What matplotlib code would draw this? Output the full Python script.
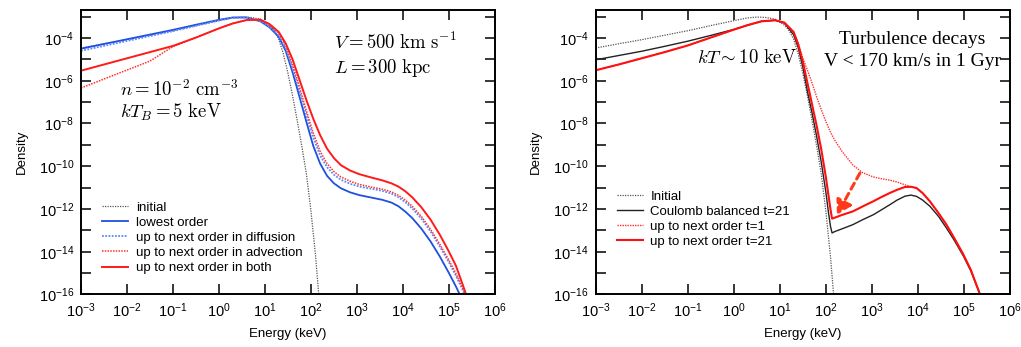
import numpy as np
import matplotlib
matplotlib.use("Agg")
import matplotlib.pyplot as plt
from matplotlib.ticker import FixedLocator, FuncFormatter

plt.rcParams['font.family'] = ['Liberation Sans', 'DejaVu Sans']
plt.rcParams['mathtext.fontset'] = 'cm'

# ---- left panel data (log10 energy [keV], log10 density) ----
logE_left = [-3, -2.5, -2, -1.5, -1, -0.5, 0, 0.3, 0.6, 0.9, 1.1, 1.3, 1.45, 1.6,
             1.75, 1.9, 2.05, 2.2, 2.35, 2.5, 2.65, 2.85, 3.05, 3.3, 3.55, 3.75,
             3.9, 4.05, 4.2, 4.4, 4.6, 4.8, 5.0, 5.15, 5.3, 5.45]
lowest = [-4.50, -4.28, -4.06, -3.84, -3.62, -3.38, -3.15, -3.04, -3.04, -3.22,
          -3.50, -3.95, -4.60, -5.60, -6.75, -7.92, -9.05, -9.88, -10.45, -10.80,
          -11.03, -11.22, -11.35, -11.46, -11.57, -11.70, -11.87, -12.12, -12.42,
          -12.92, -13.52, -14.22, -15.00, -15.62, -16.30, -17.0]
diffusion = [-4.60, -4.37, -4.14, -3.91, -3.68, -3.43, -3.18, -3.05, -3.04, -3.21,
             -3.47, -3.88, -4.50, -5.42, -6.50, -7.60, -8.65, -9.50, -10.05, -10.40,
             -10.63, -10.82, -10.95, -11.05, -11.15, -11.28, -11.45, -11.68, -11.97,
             -12.45, -13.05, -13.75, -14.50, -15.12, -15.80, -16.5]
advection = [-6.34, -5.92, -5.50, -5.08, -4.40, -3.98, -3.55, -3.32, -3.16, -3.14,
             -3.38, -3.76, -4.35, -5.25, -6.30, -7.40, -8.45, -9.30, -9.88, -10.25,
             -10.50, -10.70, -10.85, -10.97, -11.07, -11.20, -11.36, -11.58, -11.87,
             -12.35, -12.95, -13.65, -14.40, -15.02, -15.70, -16.4]
both = [-5.53, -5.24, -4.95, -4.66, -4.37, -3.98, -3.55, -3.32, -3.16, -3.14,
        -3.35, -3.72, -4.25, -5.00, -5.95, -6.90, -7.78, -8.55, -9.18, -9.62,
        -9.95, -10.20, -10.37, -10.52, -10.66, -10.80, -10.95, -11.17, -11.45,
        -11.92, -12.50, -13.20, -14.00, -14.65, -15.55, -16.5]

# initial distribution (same in both panels)
logE_init = [-3, -2.5, -2, -1.5, -1, -0.5, 0, 0.3, 0.5, 0.7, 0.9, 1.1, 1.2, 1.3,
             1.4, 1.5, 1.6, 1.7, 1.8, 1.9, 2.0, 2.1, 2.2]
initial = [-4.47, -4.27, -4.08, -3.87, -3.66, -3.42, -3.19, -3.06, -3.02, -3.04,
           -3.12, -3.40, -3.65, -4.05, -4.75, -5.65, -6.70, -7.85, -9.05, -10.35,
           -12.10, -14.20, -16.8]

# ---- right panel data ----
logE_right = [-3, -2.5, -2, -1.5, -1, -0.5, 0, 0.3, 0.6, 0.9, 1.1, 1.3, 1.4, 1.5,
              1.6, 1.7, 1.8, 1.9, 2.0, 2.06, 2.1, 2.135, 2.2, 2.35, 2.59, 2.8, 3.03,
              3.2, 3.39, 3.55, 3.72, 3.85, 3.97, 4.1, 4.26, 4.45, 4.62, 4.8, 4.99,
              5.15, 5.35, 5.45]
coulomb = [-5.02, -4.82, -4.62, -4.39, -4.15, -3.88, -3.60, -3.40, -3.22, -3.17,
           -3.30, -3.85, -4.45, -5.35, -6.50, -7.50, -8.60, -9.80, -11.20, -12.20,
           -12.80, -13.12, -13.05, -12.93, -12.73, -12.50, -12.27, -12.05, -11.80,
           -11.58, -11.40, -11.35, -11.41, -11.58, -11.87, -12.35, -12.89, -13.50,
           -14.21, -14.90, -16.0, -16.5]
t21 = [-5.51, -5.24, -4.95, -4.66, -4.35, -3.98, -3.61, -3.40, -3.22, -3.17,
       -3.28, -3.72, -4.30, -5.10, -6.10, -7.10, -8.10, -9.20, -10.50, -11.40,
       -12.00, -12.45, -12.40, -12.28, -12.11, -11.88, -11.64, -11.45, -11.25,
       -11.10, -10.97, -10.96, -11.02, -11.25, -11.64, -12.20, -12.73, -13.40,
       -14.14, -14.85, -16.0, -16.5]
t1 = [-5.51, -5.24, -4.95, -4.66, -4.35, -3.98, -3.61, -3.40, -3.22, -3.17,
      -3.28, -3.72, -4.25, -4.95, -5.50, -6.10, -6.75, -7.35, -7.90, -8.20,
      -8.40, -8.55, -8.80, -9.30, -9.95, -10.30, -10.50, -10.58, -10.65,
      -10.74, -10.87, -10.96, -11.02, -11.25, -11.64, -12.20, -12.73, -13.40,
      -14.14, -14.85, -16.0, -16.5]

left_labels = ['initial', 'lowest order', 'up to next order in diffusion',
               'up to next order in advection', 'up to next order in both']
right_labels = ['Initial', 'Coulomb balanced t=21', 'up to next order t=1',
                'up to next order t=21']


def p10(a):
    return 10.0 ** np.asarray(a)


def style_axes(ax):
    ax.set_xscale('log')
    ax.set_yscale('log')
    ax.set_xlim(1e-3, 1e6)
    ax.set_ylim(1e-16, 10 ** -2.69)
    ax.xaxis.set_major_locator(FixedLocator([10.0 ** k for k in range(-3, 7)]))
    ax.yaxis.set_major_locator(FixedLocator([10.0 ** k for k in range(-16, -2)]))
    ax.xaxis.set_minor_locator(FixedLocator([]))
    ax.yaxis.set_minor_locator(FixedLocator([]))
    ax.xaxis.set_major_formatter(FuncFormatter(
        lambda v, p: r'$\mathregular{10^{%d}}$' % round(np.log10(v))))
    ax.yaxis.set_major_formatter(FuncFormatter(
        lambda v, p: r'$\mathregular{10^{%d}}$' % round(np.log10(v))
        if round(np.log10(v)) % 2 == 0 else ''))
    ax.tick_params(which='major', direction='in', length=7.5, width=1.1,
                   top=True, right=True, labelsize=10.5, pad=5)
    for s in ax.spines.values():
        s.set_linewidth(1.4)
    ax.set_xlabel('Energy (keV)', fontsize=9.5, labelpad=6)
    ax.set_ylabel('Density', fontsize=9.5, labelpad=8)


fig = plt.figure(figsize=(10.21, 3.47), dpi=100)
ax1 = fig.add_axes([0.0793, 0.1513, 0.4055, 0.8199])
ax2 = fig.add_axes([0.5834, 0.1513, 0.4058, 0.8199])

# left panel
ax1.plot(p10(logE_init), p10(initial), color='#555555', ls=(0, (1, 1)), lw=0.9,
         label=left_labels[0])
ax1.plot(p10(logE_left), p10(lowest), color='#1f4fe0', lw=1.3, label=left_labels[1])
ax1.plot(p10(logE_left), p10(diffusion), color='#5a88ff', ls=(0, (1, 0.8)), lw=1.3,
         label=left_labels[2])
ax1.plot(p10(logE_left), p10(advection), color='#ff3030', ls=(0, (1, 0.8)), lw=1.1,
         label=left_labels[3])
ax1.plot(p10(logE_left), p10(both), color='#ff1a1a', lw=1.4, label=left_labels[4])
style_axes(ax1)
ax1.legend(loc='lower left', bbox_to_anchor=(0.035, 0.048), frameon=False,
           fontsize=9.5, handlelength=2.0, handletextpad=0.55, labelspacing=0.22,
           borderpad=0)
ax1.text(0.61, 0.885, r'$V = 500\ \mathrm{km\ s^{-1}}$', transform=ax1.transAxes,
         fontsize=13.5, va='center')
ax1.text(0.61, 0.795, r'$L = 300\ \mathrm{kpc}$', transform=ax1.transAxes,
         fontsize=13.5, va='center')
ax1.text(0.095, 0.72, r'$n = 10^{-2}\ \mathrm{cm}^{-3}$', transform=ax1.transAxes,
         fontsize=13.5, va='center')
ax1.text(0.095, 0.64, r'$kT_B = 5\ \mathrm{keV}$', transform=ax1.transAxes,
         fontsize=13.5, va='center')

# right panel
ax2.plot(p10(logE_init), p10(initial), color='#555555', ls=(0, (1, 1)), lw=0.9,
         label=right_labels[0])
ax2.plot(p10(logE_right), p10(coulomb), color='#222222', lw=1.0, label=right_labels[1])
ax2.plot(p10(logE_right), p10(t1), color='#ff3030', ls=(0, (1, 0.8)), lw=1.0,
         label=right_labels[2])
ax2.plot(p10(logE_right), p10(t21), color='#ff1010', lw=1.5, label=right_labels[3])
style_axes(ax2)
ax2.legend(loc='lower left', bbox_to_anchor=(0.035, 0.14), frameon=False,
           fontsize=9.5, handlelength=2.0, handletextpad=0.55, labelspacing=0.22,
           borderpad=0)
ax2.annotate('', xy=(10 ** 2.24, 10 ** -12.27), xytext=(10 ** 2.74, 10 ** -10.32),
             arrowprops=dict(arrowstyle='-|>,head_length=0.85,head_width=0.5',
                             color='#ff3a1a', lw=2.2, ls=(0, (2.2, 1.6)),
                             shrinkA=0, shrinkB=0))
ax2.text(0.245, 0.83, r'$kT \sim 10\ \mathrm{keV}$', transform=ax2.transAxes,
         fontsize=13.5, va='center')
ax2.text(0.765, 0.895, 'Turbulence decays', transform=ax2.transAxes,
         family='Liberation Serif', fontsize=14, ha='center', va='center')
ax2.text(0.765, 0.82, 'V < 170 km/s in 1 Gyr', transform=ax2.transAxes,
         family='Liberation Serif', fontsize=14, ha='center', va='center')

fig.savefig('out.png', dpi=100)
